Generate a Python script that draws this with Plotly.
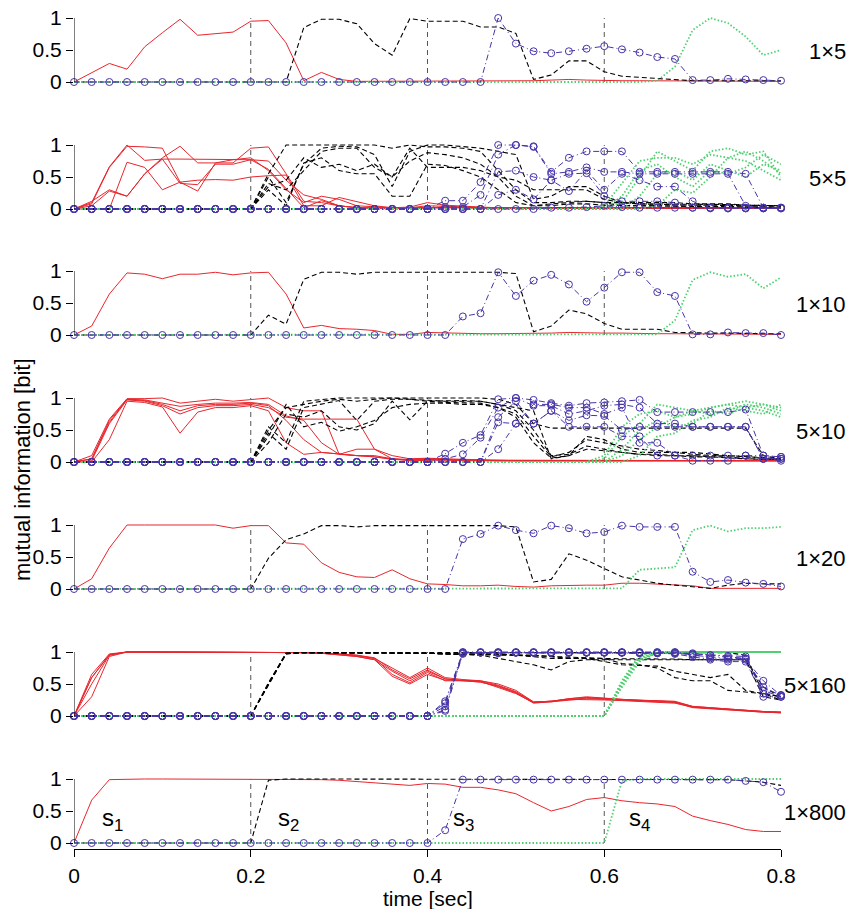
import plotly.graph_objects as go

# ---------------- data ----------------
t = [0.00, 0.02, 0.04, 0.06, 0.08, 0.10, 0.12, 0.14, 0.16, 0.18,
     0.20, 0.22, 0.24, 0.26, 0.28, 0.30, 0.32, 0.34, 0.36, 0.38,
     0.40, 0.42, 0.44, 0.46, 0.48, 0.50, 0.52, 0.54, 0.56, 0.58,
     0.60, 0.62, 0.64, 0.66, 0.68, 0.70, 0.72, 0.74, 0.76, 0.78, 0.80]

panel_labels = ["1×5", "5×5", "1×10", "5×10", "1×20", "5×160", "1×800"]
x_ticks = [0, 0.2, 0.4, 0.6, 0.8]
x_ticktext = ["0", "0.2", "0.4", "0.6", "0.8"]
y_ticks = [0, 0.5, 1]
y_ticktext = ["0", "0.5", "1"]
stim_labels = ["s<sub>1</sub>", "s<sub>2</sub>", "s<sub>3</sub>", "s<sub>4</sub>"]
stim_label_x = [0.029, 0.228, 0.427, 0.626]

# ---- panel 1: 1x5 ----
p1_s1 = [0, 0.15, 0.29, 0.20, 0.55, 0.77, 0.98, 0.73, 0.75, 0.78,
         0.95, 0.96, 0.61, 0.02, 0.15, 0.04, 0.01, 0.01, 0.01, 0.01,
         0.01, 0.01, 0.01, 0.01, 0.01, 0.01, 0.02, 0.03, 0.04, 0.03,
         0.02, 0.02, 0.02, 0.02, 0.02, 0.02, 0.02, 0.02, 0.01, 0.01, 0.01]
p1_s2 = [0, 0, 0, 0, 0, 0, 0, 0, 0, 0,
         0, 0, 0, 0.85, 0.98, 0.98, 0.91, 0.60, 0.42, 0.99,
         0.95, 0.95, 0.95, 0.86, 0.86, 0.76, 0.04, 0.11, 0.33, 0.33,
         0.16, 0.09, 0.07, 0.06, 0.03, 0.02, 0.02, 0.02, 0.03, 0.03, 0.02]
p1_s3 = [0, 0, 0, 0, 0, 0, 0, 0, 0, 0,
         0, 0, 0, 0, 0, 0, 0, 0, 0, 0,
         0, 0, 0, 0, 1.00, 0.60, 0.48, 0.45, 0.48, 0.52,
         0.56, 0.51, 0.46, 0.39, 0.36, 0.03, 0.03, 0.05, 0.04, 0.03, 0.02]
p1_s4 = [0, 0, 0, 0, 0, 0, 0, 0, 0, 0,
         0, 0, 0, 0, 0, 0, 0, 0, 0, 0,
         0, 0, 0, 0, 0, 0, 0, 0, 0, 0,
         0, 0, 0, 0.02, 0.24, 0.81, 1.00, 0.92, 0.71, 0.42, 0.50]

# ---- panel 2: 5x5 ----
r2_a = [0, 0.08, 0.65, 0.98, 0.97, 0.95, 0.42, 0.28, 0.72, 0.72,
        0.95, 0.97, 0.55, 0.12, 0.10, 0.05, 0.02, 0.02, 0.01, 0.01,
        0.02, 0.03, 0.02, 0.02, 0.02, 0.02, 0.02, 0.02, 0.03, 0.02,
        0.02, 0.02, 0.02, 0.02, 0.02, 0.02, 0.02, 0.02, 0.02, 0.02, 0.02]
r2_b = [0, 0.10, 0.66, 1.00, 0.76, 0.78, 0.78, 0.78, 0.78, 0.77,
        0.77, 0.75, 0.45, 0.22, 0.15, 0.05, 0.02, 0.01, 0.01, 0.02,
        0.05, 0.04, 0.03, 0.02, 0.02, 0.01, 0.01, 0.01, 0.02, 0.02,
        0.01, 0.01, 0.01, 0.01, 0.01, 0.01, 0.01, 0.01, 0.01, 0.01, 0.01]
r2_c = [0, 0.12, 0.30, 0.20, 0.55, 0.80, 0.98, 0.72, 0.72, 0.77,
        0.80, 0.60, 0.30, 0.10, 0.20, 0.15, 0.05, 0.03, 0.02, 0.03,
        0.10, 0.06, 0.04, 0.03, 0.02, 0.02, 0.02, 0.02, 0.02, 0.02,
        0.02, 0.02, 0.02, 0.02, 0.02, 0.02, 0.02, 0.02, 0.02, 0.02, 0.02]
r2_d = [0, 0.00, 0.00, 0.73, 0.65, 0.30, 0.42, 0.45, 0.46, 0.45,
        0.50, 0.52, 0.53, 0.05, 0.05, 0.18, 0.12, 0.05, 0.02, 0.02,
        0.03, 0.02, 0.02, 0.01, 0.01, 0.01, 0.01, 0.01, 0.01, 0.01,
        0.01, 0.01, 0.01, 0.01, 0.01, 0.01, 0.01, 0.01, 0.01, 0.01, 0.01]
r2_e = [0, 0.05, 0.28, 0.20, 0.55, 0.78, 0.40, 0.38, 0.70, 0.70,
        0.77, 0.62, 0.32, 0.02, 0.13, 0.05, 0.02, 0.01, 0.01, 0.01,
        0.02, 0.02, 0.02, 0.02, 0.02, 0.03, 0.02, 0.02, 0.02, 0.02,
        0.02, 0.02, 0.02, 0.02, 0.02, 0.02, 0.02, 0.02, 0.02, 0.02, 0.02]
k2_a = [0, 0, 0, 0, 0, 0, 0, 0, 0, 0,
        0, 0.55, 1.00, 1.00, 1.00, 1.00, 1.00, 1.00, 0.95, 1.00,
        0.97, 0.97, 0.95, 0.90, 0.60, 0.30, 0.10, 0.10, 0.12, 0.12,
        0.10, 0.10, 0.10, 0.10, 0.10, 0.08, 0.08, 0.08, 0.06, 0.05, 0.05]
k2_b = [0, 0, 0, 0, 0, 0, 0, 0, 0, 0,
        0, 0.50, 0.10, 0.70, 0.95, 0.98, 0.97, 0.85, 0.35, 0.90,
        1.00, 1.00, 0.97, 0.95, 0.90, 0.85, 0.15, 0.20, 0.35, 0.35,
        0.20, 0.10, 0.08, 0.08, 0.08, 0.07, 0.07, 0.07, 0.06, 0.05, 0.05]
k2_c = [0, 0, 0, 0, 0, 0, 0, 0, 0, 0,
        0, 0.30, 0.05, 0.72, 0.80, 0.60, 0.55, 0.55, 0.20, 0.20,
        0.70, 0.68, 0.60, 0.50, 0.30, 0.10, 0.05, 0.05, 0.08, 0.08,
        0.06, 0.05, 0.05, 0.05, 0.04, 0.04, 0.04, 0.03, 0.03, 0.03, 0.03]
k2_d = [0, 0, 0, 0, 0, 0, 0, 0, 0, 0,
        0, 0.35, 0.45, 0.80, 0.65, 0.70, 0.60, 0.70, 0.50, 0.75,
        0.88, 0.85, 0.80, 0.70, 0.50, 0.20, 0.05, 0.08, 0.10, 0.12,
        0.10, 0.05, 0.05, 0.05, 0.05, 0.04, 0.04, 0.04, 0.03, 0.03, 0.03]
k2_e = [0, 0, 0, 0, 0, 0, 0, 0, 0, 0,
        0, 0.40, 0.30, 0.60, 0.90, 0.95, 0.95, 0.65, 0.50, 0.95,
        0.65, 0.65, 0.65, 0.60, 0.50, 0.45, 0.30, 0.30, 0.30, 0.30,
        0.15, 0.10, 0.08, 0.07, 0.07, 0.06, 0.06, 0.05, 0.05, 0.05, 0.05]
b2_a = [0, 0, 0, 0, 0, 0, 0, 0, 0, 0,
        0, 0, 0, 0, 0, 0, 0, 0, 0, 0,
        0, 0.13, 0.13, 0.42, 1.00, 1.00, 0.98, 0.58, 0.80, 0.90,
        0.90, 0.90, 0.58, 0.58, 0.58, 0.58, 0.58, 0.58, 0.55, 0.02, 0.02]
b2_b = [0, 0, 0, 0, 0, 0, 0, 0, 0, 0,
        0, 0, 0, 0, 0, 0, 0, 0, 0, 0,
        0, 0.03, 0.03, 0.22, 0.85, 1.00, 0.97, 0.55, 0.58, 0.65,
        0.58, 0.58, 0.55, 0.55, 0.55, 0.55, 0.55, 0.55, 0.05, 0.02, 0.02]
b2_c = [0, 0, 0, 0, 0, 0, 0, 0, 0, 0,
        0, 0, 0, 0, 0, 0, 0, 0, 0, 0,
        0, 0, 0, 0, 0.58, 0.60, 0.50, 0.45, 0.28, 0.60,
        0.30, 0.55, 0.45, 0.35, 0.35, 0.12, 0.02, 0.01, 0.01, 0.01, 0.01]
b2_d = [0, 0, 0, 0, 0, 0, 0, 0, 0, 0,
        0, 0, 0, 0, 0, 0, 0, 0, 0, 0,
        0, 0, 0, 0, 0.22, 0.30, 0.15, 0.45, 0.55, 0.56,
        0.20, 0.12, 0.12, 0.12, 0.10, 0.02, 0.01, 0.01, 0.01, 0.01, 0.01]
b2_e = [0, 0, 0, 0, 0, 0, 0, 0, 0, 0,
        0, 0, 0, 0, 0, 0, 0, 0, 0, 0,
        0, 0, 0, 0, 0, 0, 0, 0.02, 0.02, 0.03,
        0.05, 0.03, 0.02, 0.02, 0.02, 0.02, 0.02, 0.02, 0.02, 0.02, 0.02]
g2_a = [0, 0, 0, 0, 0, 0, 0, 0, 0, 0,
        0, 0, 0, 0, 0, 0, 0, 0, 0, 0,
        0, 0, 0, 0, 0, 0, 0, 0, 0, 0,
        0, 0.10, 0.50, 0.90, 0.75, 0.60, 0.90, 0.95, 0.85, 0.90, 0.50]
g2_b = [0, 0, 0, 0, 0, 0, 0, 0, 0, 0,
        0, 0, 0, 0, 0, 0, 0, 0, 0, 0,
        0, 0, 0, 0, 0, 0, 0, 0, 0, 0,
        0.05, 0.40, 0.75, 0.80, 0.80, 0.70, 0.85, 0.80, 0.90, 0.75, 0.55]
g2_c = [0, 0, 0, 0, 0, 0, 0, 0, 0, 0,
        0, 0, 0, 0, 0, 0, 0, 0, 0, 0,
        0, 0, 0, 0, 0, 0, 0, 0, 0, 0,
        0, 0, 0.20, 0.55, 0.60, 0.45, 0.70, 0.60, 0.50, 0.70, 0.60]
g2_d = [0, 0, 0, 0, 0, 0, 0, 0, 0, 0,
        0, 0, 0, 0, 0, 0, 0, 0, 0, 0,
        0, 0, 0, 0, 0, 0, 0, 0, 0, 0,
        0, 0, 0, 0.05, 0.30, 0.25, 0.50, 0.80, 0.75, 0.60, 0.45]
g2_e = [0, 0, 0, 0, 0, 0, 0, 0, 0, 0,
        0, 0, 0, 0, 0, 0, 0, 0, 0, 0,
        0, 0, 0, 0, 0, 0, 0, 0, 0, 0,
        0, 0.20, 0.60, 0.70, 0.50, 0.35, 0.60, 0.55, 0.65, 0.85, 0.70]

# ---- panel 3: 1x10 ----
p3_s1 = [0, 0.14, 0.64, 0.97, 0.95, 0.88, 0.95, 0.95, 0.98, 0.94,
         0.97, 0.98, 0.64, 0.11, 0.15, 0.10, 0.09, 0.07, 0.01, 0.01,
         0.04, 0.03, 0.03, 0.02, 0.02, 0.02, 0.02, 0.03, 0.04, 0.03,
         0.03, 0.03, 0.02, 0.02, 0.02, 0.02, 0.02, 0.01, 0.01, 0.01, 0.01]
p3_s2 = [0, 0, 0, 0, 0, 0, 0, 0, 0, 0,
         0, 0.31, 0.17, 0.87, 0.98, 0.98, 0.95, 0.98, 0.98, 0.98,
         0.98, 0.98, 0.98, 0.98, 0.98, 0.96, 0.05, 0.14, 0.39, 0.33,
         0.18, 0.09, 0.09, 0.09, 0.04, 0.03, 0.03, 0.03, 0.02, 0.02, 0.02]
p3_s3 = [0, 0, 0, 0, 0, 0, 0, 0, 0, 0,
         0, 0, 0, 0, 0, 0, 0, 0, 0, 0,
         0, 0, 0.29, 0.34, 0.98, 0.61, 0.85, 0.94, 0.79, 0.52,
         0.74, 0.98, 0.98, 0.67, 0.61, 0.01, 0.01, 0.04, 0.03, 0.03, 0.00]
p3_s4 = [0, 0, 0, 0, 0, 0, 0, 0, 0, 0,
         0, 0, 0, 0, 0, 0, 0, 0, 0, 0,
         0, 0, 0, 0, 0, 0, 0, 0, 0, 0,
         0, 0, 0, 0.01, 0.23, 0.86, 0.98, 0.91, 0.95, 0.73, 0.90]

# ---- panel 4: 5x10 ----
r4_a = [0, 0.10, 0.67, 0.99, 0.99, 1.00, 0.92, 0.95, 0.98, 0.95,
        0.98, 1.00, 0.85, 0.80, 0.80, 0.12, 0.10, 0.10, 0.05, 0.03,
        0.05, 0.04, 0.03, 0.03, 0.02, 0.02, 0.02, 0.02, 0.02, 0.02,
        0.02, 0.02, 0.02, 0.02, 0.02, 0.02, 0.02, 0.02, 0.02, 0.02, 0.02]
r4_b = [0, 0.05, 0.65, 0.98, 0.97, 0.92, 0.87, 0.90, 0.92, 0.92,
        0.93, 0.90, 0.72, 0.65, 0.30, 0.12, 0.20, 0.20, 0.10, 0.05,
        0.06, 0.05, 0.04, 0.03, 0.03, 0.02, 0.02, 0.02, 0.02, 0.02,
        0.02, 0.02, 0.02, 0.02, 0.02, 0.02, 0.02, 0.02, 0.02, 0.02, 0.02]
r4_c = [0, 0.02, 0.60, 0.97, 0.95, 0.88, 0.75, 0.85, 0.88, 0.88,
        0.90, 0.85, 0.70, 0.67, 0.67, 0.67, 0.67, 0.20, 0.05, 0.02,
        0.03, 0.03, 0.02, 0.02, 0.02, 0.02, 0.02, 0.02, 0.02, 0.02,
        0.02, 0.02, 0.02, 0.02, 0.02, 0.02, 0.02, 0.02, 0.02, 0.02, 0.02]
r4_d = [0, 0.00, 0.35, 0.95, 0.93, 0.86, 0.45, 0.78, 0.85, 0.85,
        0.88, 0.80, 0.30, 0.12, 0.15, 0.12, 0.10, 0.08, 0.05, 0.04,
        0.05, 0.04, 0.03, 0.03, 0.02, 0.02, 0.02, 0.02, 0.02, 0.02,
        0.02, 0.02, 0.02, 0.02, 0.02, 0.02, 0.02, 0.02, 0.02, 0.02, 0.02]
r4_e = [0, 0.05, 0.62, 0.98, 0.96, 0.90, 0.80, 0.88, 0.90, 0.90,
        0.92, 0.88, 0.65, 0.35, 0.15, 0.12, 0.10, 0.08, 0.04, 0.03,
        0.04, 0.03, 0.03, 0.02, 0.02, 0.02, 0.02, 0.02, 0.02, 0.02,
        0.02, 0.02, 0.02, 0.02, 0.02, 0.02, 0.02, 0.02, 0.02, 0.02, 0.02]
k4_a = [0, 0, 0, 0, 0, 0, 0, 0, 0, 0,
        0, 0.55, 0.30, 0.95, 0.98, 1.00, 1.00, 1.00, 1.00, 1.00,
        1.00, 1.00, 1.00, 1.00, 0.98, 0.90, 0.60, 0.53, 0.53, 0.53,
        0.53, 0.53, 0.53, 0.53, 0.53, 0.53, 0.53, 0.53, 0.53, 0.10, 0.05]
k4_b = [0, 0, 0, 0, 0, 0, 0, 0, 0, 0,
        0, 0.45, 0.20, 0.85, 0.90, 0.96, 0.65, 0.95, 0.98, 0.98,
        0.95, 0.96, 0.96, 0.95, 0.90, 0.85, 0.80, 0.05, 0.10, 0.40,
        0.35, 0.20, 0.15, 0.15, 0.15, 0.12, 0.10, 0.10, 0.08, 0.06, 0.05]
k4_c = [0, 0, 0, 0, 0, 0, 0, 0, 0, 0,
        0, 0.30, 0.75, 0.70, 0.80, 0.55, 0.50, 0.60, 0.95, 0.66,
        0.95, 0.93, 0.92, 0.92, 0.85, 0.75, 0.40, 0.08, 0.15, 0.35,
        0.30, 0.25, 0.20, 0.18, 0.15, 0.15, 0.12, 0.10, 0.08, 0.06, 0.05]
k4_d = [0, 0, 0, 0, 0, 0, 0, 0, 0, 0,
        0, 0.40, 0.90, 0.55, 0.62, 0.48, 0.55, 0.65, 0.85, 0.90,
        0.92, 0.92, 0.90, 0.90, 0.85, 0.70, 0.30, 0.06, 0.10, 0.20,
        0.18, 0.15, 0.12, 0.12, 0.10, 0.10, 0.08, 0.08, 0.05, 0.05, 0.04]
k4_e = [0, 0, 0, 0, 0, 0, 0, 0, 0, 0,
        0, 0.50, 0.85, 0.90, 0.95, 0.98, 0.95, 0.98, 1.00, 0.98,
        0.96, 0.95, 0.95, 0.95, 0.90, 0.80, 0.50, 0.10, 0.12, 0.25,
        0.20, 0.15, 0.12, 0.10, 0.10, 0.08, 0.08, 0.06, 0.05, 0.04, 0.04]
b4_a = [0, 0, 0, 0, 0, 0, 0, 0, 0, 0,
        0, 0, 0, 0, 0, 0, 0, 0, 0, 0,
        0, 0.13, 0.30, 0.42, 0.98, 1.00, 0.97, 0.92, 0.88, 0.92,
        0.93, 0.95, 0.97, 0.78, 0.78, 0.78, 0.78, 0.78, 0.82, 0.10, 0.08]
b4_b = [0, 0, 0, 0, 0, 0, 0, 0, 0, 0,
        0, 0, 0, 0, 0, 0, 0, 0, 0, 0,
        0, 0.05, 0.12, 0.38, 0.85, 1.00, 0.88, 0.88, 0.75, 0.80,
        0.88, 0.90, 0.85, 0.60, 0.60, 0.55, 0.55, 0.55, 0.55, 0.05, 0.05]
b4_c = [0, 0, 0, 0, 0, 0, 0, 0, 0, 0,
        0, 0, 0, 0, 0, 0, 0, 0, 0, 0,
        0, 0, 0, 0, 0.70, 0.95, 0.60, 0.80, 0.65, 0.73,
        0.72, 0.50, 0.55, 0.55, 0.55, 0.55, 0.55, 0.55, 0.55, 0.05, 0.02]
b4_d = [0, 0, 0, 0, 0, 0, 0, 0, 0, 0,
        0, 0, 0, 0, 0, 0, 0, 0, 0, 0,
        0, 0, 0, 0, 0.62, 0.60, 0.60, 0.80, 0.55, 0.55,
        0.55, 0.40, 0.40, 0.10, 0.10, 0.10, 0.10, 0.10, 0.10, 0.05, 0.05]
b4_e = [0, 0, 0, 0, 0, 0, 0, 0, 0, 0,
        0, 0, 0, 0, 0, 0, 0, 0, 0, 0,
        0, 0, 0, 0, 0.20, 0.60, 0.90, 0.90, 0.85, 0.85,
        0.75, 0.85, 0.30, 0.30, 0.10, 0.02, 0.02, 0.02, 0.10, 0.10, 0.08]
g4_a = [0, 0, 0, 0, 0, 0, 0, 0, 0, 0,
        0, 0, 0, 0, 0, 0, 0, 0, 0, 0,
        0, 0, 0, 0, 0, 0, 0, 0, 0, 0,
        0.05, 0.40, 0.60, 0.90, 0.85, 0.80, 0.85, 0.90, 0.95, 0.90, 0.85]
g4_b = [0, 0, 0, 0, 0, 0, 0, 0, 0, 0,
        0, 0, 0, 0, 0, 0, 0, 0, 0, 0,
        0, 0, 0, 0, 0, 0, 0, 0, 0, 0,
        0.10, 0.55, 0.75, 0.80, 0.70, 0.75, 0.85, 0.90, 0.85, 0.90, 0.80]
g4_c = [0, 0, 0, 0, 0, 0, 0, 0, 0, 0,
        0, 0, 0, 0, 0, 0, 0, 0, 0, 0,
        0, 0, 0, 0, 0, 0, 0, 0, 0, 0,
        0, 0.20, 0.50, 0.65, 0.55, 0.60, 0.80, 0.75, 0.85, 0.80, 0.70]
g4_d = [0, 0, 0, 0, 0, 0, 0, 0, 0, 0,
        0, 0, 0, 0, 0, 0, 0, 0, 0, 0,
        0, 0, 0, 0, 0, 0, 0, 0, 0, 0,
        0, 0, 0.10, 0.40, 0.45, 0.65, 0.70, 0.85, 0.80, 0.75, 0.90]
g4_e = [0, 0, 0, 0, 0, 0, 0, 0, 0, 0,
        0, 0, 0, 0, 0, 0, 0, 0, 0, 0,
        0, 0, 0, 0, 0, 0, 0, 0, 0, 0,
        0, 0.10, 0.35, 0.55, 0.70, 0.80, 0.75, 0.80, 0.90, 0.85, 0.75]

# ---- panel 5: 1x20 ----
p5_s1 = [0, 0.16, 0.64, 1.00, 1.00, 1.00, 1.00, 1.00, 1.00, 0.95,
         0.99, 0.99, 0.72, 0.70, 0.41, 0.26, 0.19, 0.18, 0.30, 0.16,
         0.08, 0.07, 0.05, 0.05, 0.06, 0.04, 0.03, 0.05, 0.06, 0.06,
         0.06, 0.09, 0.09, 0.08, 0.07, 0.05, 0.01, 0.01, 0.01, 0.01, 0.01]
p5_s2 = [0, 0, 0, 0, 0, 0, 0, 0, 0, 0,
         0, 0.48, 0.77, 0.86, 0.99, 0.99, 0.97, 0.99, 0.99, 0.99,
         0.99, 0.99, 0.99, 0.99, 0.99, 0.97, 0.11, 0.15, 0.55, 0.45,
         0.32, 0.19, 0.14, 0.09, 0.06, 0.04, 0.01, 0.06, 0.09, 0.08, 0.08]
p5_s3 = [0, 0, 0, 0, 0, 0, 0, 0, 0, 0,
         0, 0, 0, 0, 0, 0, 0, 0, 0, 0,
         0, 0, 0.78, 0.86, 0.99, 0.92, 0.87, 0.99, 0.95, 0.87,
         0.89, 0.99, 0.97, 0.97, 0.97, 0.27, 0.11, 0.14, 0.10, 0.08, 0.04]
p5_s4 = [0, 0, 0, 0, 0, 0, 0, 0, 0, 0,
         0, 0, 0, 0, 0, 0, 0, 0, 0, 0,
         0, 0, 0, 0, 0, 0, 0, 0, 0, 0,
         0, 0.01, 0.30, 0.32, 0.34, 0.92, 0.99, 0.90, 0.95, 0.95, 0.97]

# ---- panel 6: 5x160 ----
r6_a = [0, 0.65, 0.97, 1.00, 1.00, 1.00, 1.00, 1.00, 1.00, 1.00,
        1.00, 1.00, 1.00, 0.99, 0.98, 0.97, 0.95, 0.90, 0.75, 0.60,
        0.75, 0.60, 0.57, 0.55, 0.50, 0.40, 0.22, 0.23, 0.27, 0.30,
        0.28, 0.26, 0.24, 0.24, 0.23, 0.15, 0.13, 0.10, 0.08, 0.07, 0.06]
r6_b = [0, 0.60, 0.95, 1.00, 1.00, 1.00, 1.00, 1.00, 1.00, 1.00,
        1.00, 1.00, 1.00, 0.99, 0.98, 0.96, 0.93, 0.88, 0.70, 0.55,
        0.70, 0.58, 0.56, 0.53, 0.47, 0.37, 0.21, 0.23, 0.26, 0.28,
        0.27, 0.26, 0.25, 0.24, 0.22, 0.14, 0.12, 0.10, 0.08, 0.07, 0.06]
r6_c = [0, 0.50, 0.95, 1.00, 1.00, 1.00, 1.00, 1.00, 1.00, 1.00,
        1.00, 1.00, 1.00, 0.99, 0.98, 0.97, 0.94, 0.90, 0.65, 0.52,
        0.68, 0.55, 0.55, 0.53, 0.46, 0.36, 0.20, 0.22, 0.25, 0.27,
        0.26, 0.25, 0.24, 0.23, 0.21, 0.13, 0.11, 0.09, 0.07, 0.06, 0.05]
r6_d = [0, 0.30, 0.93, 1.00, 1.00, 1.00, 1.00, 1.00, 1.00, 1.00,
        1.00, 1.00, 1.00, 0.99, 0.98, 0.96, 0.93, 0.88, 0.62, 0.50,
        0.65, 0.56, 0.56, 0.54, 0.45, 0.35, 0.21, 0.22, 0.26, 0.26,
        0.25, 0.24, 0.23, 0.22, 0.20, 0.14, 0.12, 0.09, 0.07, 0.06, 0.05]
r6_e = [0, 0.60, 0.96, 1.00, 1.00, 1.00, 1.00, 1.00, 1.00, 1.00,
        1.00, 1.00, 1.00, 0.99, 0.99, 0.97, 0.95, 0.91, 0.72, 0.58,
        0.72, 0.58, 0.55, 0.55, 0.48, 0.38, 0.22, 0.23, 0.27, 0.29,
        0.27, 0.26, 0.25, 0.24, 0.22, 0.15, 0.13, 0.10, 0.08, 0.07, 0.06]
k6_a = [0, 0, 0, 0, 0, 0, 0, 0, 0, 0,
        0, 0.50, 0.98, 0.99, 0.99, 0.99, 0.99, 0.99, 0.99, 0.99,
        0.99, 0.99, 0.99, 0.99, 0.99, 0.99, 0.99, 0.99, 0.99, 0.99,
        0.99, 0.99, 0.99, 0.99, 0.99, 0.99, 0.99, 0.99, 0.95, 0.35, 0.30]
k6_b = [0, 0, 0, 0, 0, 0, 0, 0, 0, 0,
        0, 0.48, 0.97, 0.99, 0.99, 0.99, 0.99, 0.99, 0.99, 0.99,
        0.98, 0.97, 0.97, 0.97, 0.97, 0.95, 0.93, 0.90, 0.90, 0.90,
        0.90, 0.89, 0.89, 0.89, 0.89, 0.88, 0.88, 0.88, 0.88, 0.30, 0.25]
k6_c = [0, 0, 0, 0, 0, 0, 0, 0, 0, 0,
        0, 0.52, 0.98, 0.99, 0.99, 0.99, 0.99, 0.99, 0.99, 0.99,
        0.98, 0.97, 0.96, 0.95, 0.90, 0.85, 0.80, 0.72, 0.85, 0.88,
        0.88, 0.88, 0.88, 0.88, 0.88, 0.88, 0.88, 0.88, 0.88, 0.45, 0.30]
k6_d = [0, 0, 0, 0, 0, 0, 0, 0, 0, 0,
        0, 0.50, 0.97, 0.99, 0.99, 0.99, 0.99, 0.99, 0.99, 0.99,
        0.98, 0.97, 0.96, 0.96, 0.96, 0.96, 0.95, 0.93, 0.90, 0.90,
        0.85, 0.80, 0.79, 0.78, 0.70, 0.65, 0.60, 0.65, 0.40, 0.35, 0.30]
k6_e = [0, 0, 0, 0, 0, 0, 0, 0, 0, 0,
        0, 0.50, 0.98, 0.99, 0.99, 0.99, 0.99, 0.99, 0.99, 0.99,
        0.98, 0.97, 0.96, 0.96, 0.95, 0.95, 0.94, 0.93, 0.92, 0.91,
        0.90, 0.82, 0.80, 0.75, 0.60, 0.55, 0.55, 0.40, 0.38, 0.35, 0.25]
b6_a = [0, 0, 0, 0, 0, 0, 0, 0, 0, 0,
        0, 0, 0, 0, 0, 0, 0, 0, 0, 0,
        0, 0.23, 1.00, 1.00, 1.00, 1.00, 1.00, 1.00, 1.00, 1.00,
        1.00, 1.00, 1.00, 1.00, 1.00, 0.95, 0.92, 0.90, 0.90, 0.45, 0.32]
b6_b = [0, 0, 0, 0, 0, 0, 0, 0, 0, 0,
        0, 0, 0, 0, 0, 0, 0, 0, 0, 0,
        0, 0.15, 0.98, 0.99, 0.99, 0.99, 0.99, 0.99, 0.99, 0.99,
        0.99, 0.99, 0.99, 0.99, 0.99, 0.98, 0.95, 0.92, 0.90, 0.40, 0.30]
b6_c = [0, 0, 0, 0, 0, 0, 0, 0, 0, 0,
        0, 0, 0, 0, 0, 0, 0, 0, 0, 0,
        0, 0.10, 0.99, 0.99, 0.98, 0.99, 0.99, 0.99, 0.99, 0.99,
        0.99, 0.99, 0.99, 0.98, 0.98, 0.96, 0.90, 0.88, 0.88, 0.55, 0.32]
b6_d = [0, 0, 0, 0, 0, 0, 0, 0, 0, 0,
        0, 0, 0, 0, 0, 0, 0, 0, 0, 0,
        0, 0.08, 0.97, 0.99, 0.99, 0.99, 0.99, 0.99, 0.99, 0.99,
        0.99, 0.99, 0.98, 0.98, 0.97, 0.92, 0.88, 0.85, 0.85, 0.30, 0.30]
b6_e = [0, 0, 0, 0, 0, 0, 0, 0, 0, 0,
        0, 0, 0, 0, 0, 0, 0, 0, 0, 0,
        0, 0.20, 0.99, 0.99, 0.99, 0.99, 0.99, 0.99, 0.99, 0.99,
        0.99, 0.99, 0.99, 0.99, 0.99, 0.97, 0.95, 0.94, 0.93, 0.35, 0.33]
g6_a = [0, 0, 0, 0, 0, 0, 0, 0, 0, 0,
        0, 0, 0, 0, 0, 0, 0, 0, 0, 0,
        0, 0, 0, 0, 0, 0, 0, 0, 0, 0,
        0, 0.50, 0.90, 0.98, 1.00, 1.00, 1.00, 1.00, 1.00, 1.00, 1.00]
g6_b = [0, 0, 0, 0, 0, 0, 0, 0, 0, 0,
        0, 0, 0, 0, 0, 0, 0, 0, 0, 0,
        0, 0, 0, 0, 0, 0, 0, 0, 0, 0,
        0, 0.45, 0.85, 0.99, 1.00, 1.00, 1.00, 1.00, 1.00, 1.00, 1.00]
g6_c = [0, 0, 0, 0, 0, 0, 0, 0, 0, 0,
        0, 0, 0, 0, 0, 0, 0, 0, 0, 0,
        0, 0, 0, 0, 0, 0, 0, 0, 0, 0,
        0, 0.55, 0.95, 1.00, 1.00, 1.00, 1.00, 1.00, 1.00, 1.00, 1.00]
g6_d = [0, 0, 0, 0, 0, 0, 0, 0, 0, 0,
        0, 0, 0, 0, 0, 0, 0, 0, 0, 0,
        0, 0, 0, 0, 0, 0, 0, 0, 0, 0,
        0, 0.48, 0.88, 0.98, 1.00, 1.00, 1.00, 1.00, 1.00, 1.00, 1.00]
g6_e = [0, 0, 0, 0, 0, 0, 0, 0, 0, 0,
        0, 0, 0, 0, 0, 0, 0, 0, 0, 0,
        0, 0, 0, 0, 0, 0, 0, 0, 0, 0,
        0, 0.52, 0.92, 0.99, 1.00, 1.00, 1.00, 1.00, 1.00, 1.00, 1.00]

# ---- panel 7: 1x800 ----
p7_s1 = [0, 0.67, 0.99, 1.00, 1.00, 1.00, 1.00, 1.00, 1.00, 1.00,
         1.00, 1.00, 1.00, 1.00, 0.99, 0.98, 0.96, 0.94, 0.92, 0.90,
         0.93, 0.92, 0.87, 0.87, 0.83, 0.77, 0.63, 0.50, 0.57, 0.68,
         0.71, 0.66, 0.63, 0.61, 0.57, 0.42, 0.35, 0.29, 0.21, 0.18, 0.18]
p7_s2 = [0, 0, 0, 0, 0, 0, 0, 0, 0, 0,
         0, 0.98, 1.00, 1.00, 1.00, 1.00, 1.00, 1.00, 1.00, 1.00,
         1.00, 1.00, 1.00, 1.00, 1.00, 1.00, 1.00, 1.00, 1.00, 1.00,
         1.00, 1.00, 1.00, 1.00, 1.00, 1.00, 1.00, 0.99, 0.97, 0.95, 0.90]
p7_s3 = [0, 0, 0, 0, 0, 0, 0, 0, 0, 0,
         0, 0, 0, 0, 0, 0, 0, 0, 0, 0,
         0, 0.20, 0.99, 0.99, 0.99, 0.99, 0.99, 0.99, 0.99, 0.99,
         0.99, 0.99, 0.99, 0.99, 0.99, 0.99, 0.99, 0.99, 0.97, 0.95, 0.80]
p7_s4 = [0, 0, 0, 0, 0, 0, 0, 0, 0, 0,
         0, 0, 0, 0, 0, 0, 0, 0, 0, 0,
         0, 0, 0, 0, 0, 0, 0, 0, 0, 0,
         0, 0.97, 1.00, 1.00, 1.00, 1.00, 1.00, 1.00, 1.00, 1.00, 1.00]

panels = [
    dict(s1=[p1_s1], s2=[p1_s2], s3=[p1_s3], s4=[p1_s4]),
    dict(s1=[r2_a, r2_b, r2_c, r2_d, r2_e], s2=[k2_a, k2_b, k2_c, k2_d, k2_e],
         s3=[b2_a, b2_b, b2_c, b2_d, b2_e], s4=[g2_a, g2_b, g2_c, g2_d, g2_e]),
    dict(s1=[p3_s1], s2=[p3_s2], s3=[p3_s3], s4=[p3_s4]),
    dict(s1=[r4_a, r4_b, r4_c, r4_d, r4_e], s2=[k4_a, k4_b, k4_c, k4_d, k4_e],
         s3=[b4_a, b4_b, b4_c, b4_d, b4_e], s4=[g4_a, g4_b, g4_c, g4_d, g4_e]),
    dict(s1=[p5_s1], s2=[p5_s2], s3=[p5_s3], s4=[p5_s4]),
    dict(s1=[r6_a, r6_b, r6_c, r6_d, r6_e], s2=[k6_a, k6_b, k6_c, k6_d, k6_e],
         s3=[b6_a, b6_b, b6_c, b6_d, b6_e], s4=[g6_a, g6_b, g6_c, g6_d, g6_e]),
    dict(s1=[p7_s1], s2=[p7_s2], s3=[p7_s3], s4=[p7_s4]),
]

for p in panels:
    for key in ("s1", "s2", "s3", "s4"):
        for s in p[key]:
            assert len(s) == len(t), (key, len(s))

# ---------------- styling / layout ----------------
W, H = 851, 909
ML, MR, MT, MB = 74, 70, 11, 59
plot_h = H - MT - MB
y1_px = [18, 145, 271, 398, 525, 652, 779]
PPU = 64.0
YMIN, YMAX = -0.1, 1.1
FONT = "Liberation Sans, Arial, Helvetica, sans-serif"
FS = 21

RED = "#e8262d"
BLUE = "#4634a8"
GREEN = "#4fd070"

fig = go.Figure()
layout = dict(
    width=W, height=H,
    margin=dict(l=ML, r=MR, t=MT, b=MB, autoexpand=False),
    paper_bgcolor="white", plot_bgcolor="white",
    showlegend=False,
    font=dict(family=FONT, size=FS, color="black"),
)
shapes = []
annotations = []

for k, p in enumerate(panels):
    n = k + 1
    xa = "x" if n == 1 else f"x{n}"
    ya = "y" if n == 1 else f"y{n}"
    top_px = y1_px[k] - (YMAX - 1) * PPU
    bot_px = y1_px[k] + (1 - YMIN) * PPU
    dom = [(H - MB - bot_px) / plot_h, (H - MB - top_px) / plot_h]
    dom = [max(0.0, dom[0]), min(1.0, dom[1])]
    last = (n == len(panels))
    layout[f"xaxis{'' if n == 1 else n}"] = dict(
        domain=[0, 1], range=[0, 0.8], anchor=ya, automargin=False,
        showgrid=False, zeroline=False,
        showline=last, linecolor="black", linewidth=1,
        ticks="outside" if last else "", ticklen=7, tickcolor="black",
        tickvals=x_ticks, ticktext=x_ticktext,
        showticklabels=last, tickfont=dict(size=FS),
    )
    layout[f"yaxis{'' if n == 1 else n}"] = dict(
        domain=dom, range=[YMIN, YMAX], anchor=xa, automargin=False,
        showgrid=False, zeroline=False, showline=False,
        ticks="outside", ticklen=7, tickcolor="black",
        tickvals=y_ticks, ticktext=y_ticktext, tickfont=dict(size=FS),
    )
    # y axis bracket line from 0 to 1
    shapes.append(dict(type="line", xref=xa, yref=ya, x0=0, x1=0, y0=0, y1=1,
                       line=dict(color="black", width=1), layer="above"))
    # stimulus onset markers
    for xv in (0.2, 0.4, 0.6):
        shapes.append(dict(type="line", xref=xa, yref=ya, x0=xv, x1=xv, y0=0, y1=1,
                           line=dict(color="#555555", width=1, dash="5px,4px"),
                           layer="below"))
    # traces
    for s in p["s1"]:
        fig.add_trace(go.Scatter(x=t, y=s, xaxis=xa, yaxis=ya, mode="lines",
                                 line=dict(color=RED, width=1), cliponaxis=False,
                                 hoverinfo="skip"))
    for s in p["s2"]:
        fig.add_trace(go.Scatter(x=t, y=s, xaxis=xa, yaxis=ya, mode="lines",
                                 line=dict(color="black", width=1.1, dash="5px,3px"),
                                 cliponaxis=False, hoverinfo="skip"))
    for s in p["s4"]:
        fig.add_trace(go.Scatter(x=t, y=s, xaxis=xa, yaxis=ya, mode="lines",
                                 line=dict(color=GREEN, width=1.8, dash="1.5px,2px"),
                                 cliponaxis=False, hoverinfo="skip"))
    for s in p["s3"]:
        fig.add_trace(go.Scatter(x=t, y=s, xaxis=xa, yaxis=ya, mode="lines+markers",
                                 line=dict(color=BLUE, width=1, dash="6px,3px,1px,3px"),
                                 marker=dict(symbol="circle-open", size=7, color=BLUE,
                                             line=dict(width=1, color=BLUE)),
                                 cliponaxis=False, hoverinfo="skip"))
    # panel label
    annotations.append(dict(text=panel_labels[k], xref="paper", yref=ya,
                            x=1.095, y=0.48, xanchor="right", yanchor="middle",
                            showarrow=False, font=dict(size=FS + 1)))

# stimulus labels in the last panel
for lab, xv in zip(stim_labels, stim_label_x):
    annotations.append(dict(text=lab, xref="x7", yref="y7", x=xv, y=0.37,
                            xanchor="left", yanchor="middle", showarrow=False,
                            font=dict(size=FS + 3)))

# axis titles
annotations.append(dict(text="time [sec]", xref="paper", yref="paper",
                        x=0.5, y=(H - MB - 898) / plot_h, xanchor="center",
                        yanchor="middle", showarrow=False, font=dict(size=FS)))
annotations.append(dict(text="mutual information [bit]", xref="paper", yref="paper",
                        x=(22 - ML) / (W - ML - MR), y=(H - MB - 470) / plot_h,
                        xanchor="center", yanchor="middle", textangle=-90,
                        showarrow=False, font=dict(size=FS + 1)))

layout["shapes"] = shapes
layout["annotations"] = annotations
fig.update_layout(**layout)

fig.write_html("out.html",
               config={"displayModeBar": False},
               post_script="document.body.style.margin='0';"
                           "document.body.style.overflow='hidden';")
